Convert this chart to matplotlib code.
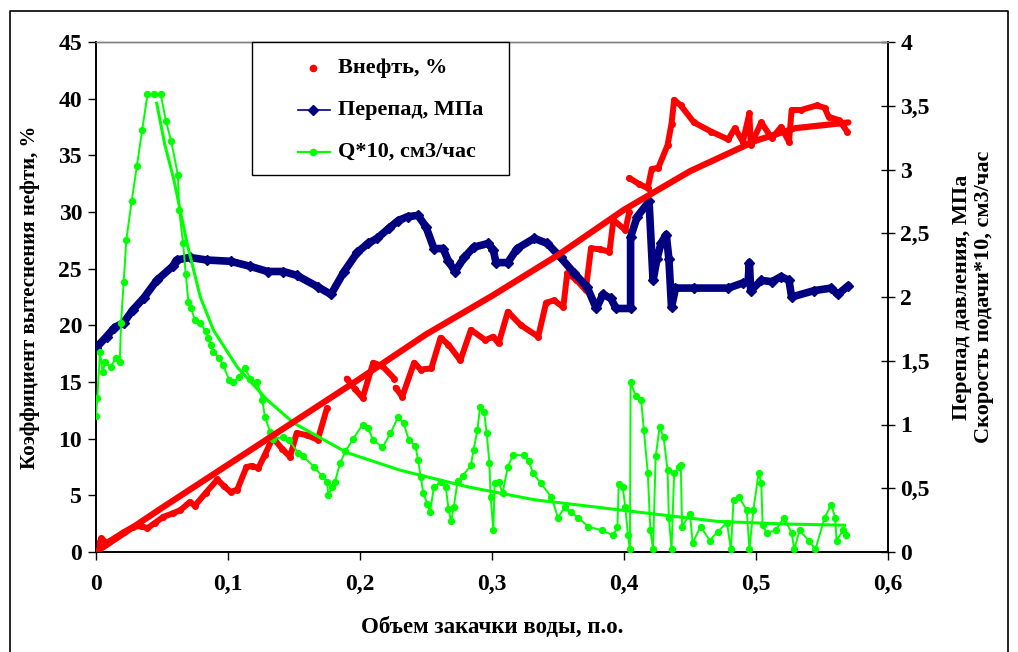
import matplotlib
matplotlib.use("Agg")
import matplotlib.pyplot as plt
from matplotlib.patches import Rectangle
from matplotlib.ticker import FixedLocator, FixedFormatter
import numpy as np

plt.rcParams['font.family'] = ['Liberation Serif', 'DejaVu Serif']
plt.rcParams['font.weight'] = 'bold'

nan = np.nan

# Oil displacement coefficient, % (left axis); NaN marks gaps in the record
oil_x = [0, .004, .008, .015, .021, .028, .034, .039, .045, .051, .058, .064, .071, .075,
         .083, .092, .097, .102, .107, .114, .118, .123, .128, .134, .141, .147, .152,
         .160, .168, .175, nan,
         .190, .196, .202, .210, .217, .226, nan,
         .227, .232, .241, .246, .254, .261, .267, .276, .284, .295, .301, .305, .312,
         .322, .335, .341, .347, .354, .357, .364, .371, .375, .382, .389, .392, .401,
         .404, nan,
         .404, .411, .418, .421, .426, .433, .436, .438, .443, .453, .466, .479, .484,
         .490, .495, .496, .504, .512, .519, .525, .527, .534, .546, .552, .555, .563,
         .569]
oil_y = [0, 1.2, 0.8, 1.3, 1.75, 2.2, 2.3, 2.1, 2.6, 3.1, 3.4, 3.7, 4.4, 4.1,
         5.2, 6.4, 5.8, 5.3, 5.5, 7.5, 7.6, 7.4, 8.6, 10.1, 9.1, 8.4, 10.5,
         10.3, 9.9, 12.7, nan,
         15.3, 14.4, 13.6, 16.7, 16.4, 15.3, nan,
         14.5, 13.7, 16.7, 16.1, 16.2, 18.9, 18.3, 16.9, 19.6, 18.7, 19.0, 18.4, 21.2,
         20.0, 19.0, 22.0, 22.2, 21.6, 24.6, 24.0, 23.1, 26.8, 26.7, 26.5, 29.3, 28.4,
         30.0, nan,
         33.0, 32.5, 32.1, 33.8, 33.9, 35.9, 37.8, 39.9, 39.4, 37.9, 37.1, 36.4, 37.4,
         36.2, 38.7, 35.9, 37.9, 36.5, 37.5, 36.2, 39.0, 39.0, 39.4, 39.2, 38.4, 38.1,
         37.1]

# Oil trend line, %
oil_trend_x = [0, .05, .1, .15, .2, .25, .3, .35, .4, .45, .5, .53, .57]
oil_trend_y = [0, 3.9, 7.7, 11.5, 15.3, 19.2, 22.6, 26.2, 30.2, 33.6, 36.3, 37.4, 37.9]

# Pressure drop, MPa (right axis)
dp_x = [0, .008, .014, .021, .028, .036, .046, .058, .061, .071, .084, .102, .117, .130,
        .142, .152, .168, .178, .188, .198, .206, .213, .222, .229, .236, .244, .250,
        .256, .263, .267, .272, .279, .286, .297, .301, .303, .312, .319, .332, .342,
        .352, .362, .372, .379, .384, .390, .394, .405, .405, .410, .419, .422, .425,
        .428, .432, .434, .436, .439, .453, .479, .490, .494, .495, .496, .504, .512,
        .519, .525, .527, .544, .557, .562, .570]
dp_y = [1.60, 1.69, 1.76, 1.80, 1.90, 1.99, 2.13, 2.24, 2.29, 2.31, 2.29, 2.28, 2.24, 2.20,
        2.20, 2.17, 2.08, 2.02, 2.20, 2.35, 2.42, 2.46, 2.54, 2.60, 2.63, 2.64, 2.55,
        2.38, 2.38, 2.28, 2.20, 2.31, 2.39, 2.42, 2.37, 2.27, 2.27, 2.38, 2.46, 2.42,
        2.31, 2.19, 2.08, 1.91, 2.02, 1.99, 1.91, 1.91, 2.47, 2.63, 2.75, 2.13, 2.30,
        2.42, 2.49, 2.30, 1.92, 2.07, 2.07, 2.07, 2.11, 2.12, 2.27, 2.05, 2.13, 2.12,
        2.16, 2.13, 2.00, 2.05, 2.07, 2.02, 2.09]

# Injection rate Q*10, cm3/h (right axis)
q_x = [0, .001, .003, .005, .007, .011, .015, .018, .019, .021, .023, .027, .031, .035,
       .039, .044, .049, .053, .057, .062, .063, .066, .068, .070, .072, .075, .079,
       .083, .085, .087, .089, .093, .096, .101, .104, .108, .113, .117, .122, .126,
       .128, .132, .134, .142, .146, .153, .157, .165, .171, .175, .176, .179, .181,
       .185, .189, .195, .202, .206, .210, .217, .223, .229, .233, .237, .242, .244,
       .246, .248, .251, .253, .256, .261, .265, .267, .269, .271, .274, .278, .284,
       .286, .289, .291, .294, .296, .298, .299, .301, .302, .305, .308, .312, .316,
       .324, .328, .331, .337, .345, .350, .355, .360, .365, .373, .383, .392, .395,
       .396, .399, .401, .403, .4045, .405, .409, .413, .415, .418, .420, .422, .424,
       .427, .430, .433, .434, .436, .438, .442, .443, .444, .450, .452, .458, .465,
       .471, .478, .481, .483, .487, .493, .495, .498, .502, .504, .505, .508, .515,
       .521, .527, .529, .533, .540, .545, .552, .557, .560, .561, .566, .568]
q_y = [1.07, 1.21, 1.57, 1.41, 1.49, 1.45, 1.52, 1.49, 1.80, 2.12, 2.45, 2.75, 3.03, 3.31,
       3.59, 3.59, 3.59, 3.38, 3.22, 2.96, 2.68, 2.42, 2.18, 1.96, 1.91, 1.82, 1.80,
       1.73, 1.68, 1.62, 1.57, 1.52, 1.47, 1.35, 1.33, 1.37, 1.44, 1.36, 1.33, 1.19,
       1.06, 0.94, 0.89, 0.90, 0.88, 0.78, 0.75, 0.67, 0.60, 0.55, 0.45, 0.51, 0.55,
       0.70, 0.79, 0.89, 1.00, 0.97, 0.88, 0.82, 0.93, 1.06, 1.01, 0.88, 0.83, 0.72,
       0.59, 0.46, 0.38, 0.31, 0.51, 0.55, 0.51, 0.34, 0.24, 0.35, 0.56, 0.60, 0.68,
       0.80, 0.96, 1.14, 1.10, 0.93, 0.70, 0.43, 0.17, 0.54, 0.55, 0.46, 0.67, 0.76,
       0.76, 0.71, 0.62, 0.54, 0.43, 0.27, 0.35, 0.31, 0.27, 0.20, 0.17, 0.13, 0.20,
       0.53, 0.51, 0.35, 0.13, 0.02, 1.33, 1.22, 1.19, 0.96, 0.62, 0.17, 0.02, 0.75,
       0.98, 0.90, 0.64, 0.27, 0.02, 0.62, 0.67, 0.68, 0.20, 0.30, 0.07, 0.20, 0.09,
       0.16, 0.23, 0.02, 0.41, 0.43, 0.33, 0.02, 0.33, 0.62, 0.54, 0.21, 0.15, 0.17,
       0.27, 0.15, 0.02, 0.17, 0.09, 0.02, 0.27, 0.37, 0.27, 0.09, 0.17, 0.13]

# Injection rate trend line
q_trend_x = [.046, .052, .059, .069, .079, .089, .107, .13, .15, .19, .231, .282, .332,
             .413, .471, .52, .567]
q_trend_y = [3.52, 3.2, 2.92, 2.42, 2.0, 1.74, 1.45, 1.19, 1.01, 0.78, 0.64, 0.51, 0.41,
             0.31, 0.24, 0.22, 0.21]

x_ticks = [0, .1, .2, .3, .4, .5, .6]
x_labels = ['0', '0,1', '0,2', '0,3', '0,4', '0,5', '0,6']
left_ticks = [0, 5, 10, 15, 20, 25, 30, 35, 40, 45]
right_ticks = [0, .5, 1, 1.5, 2, 2.5, 3, 3.5, 4]
right_labels = ['0', '0,5', '1', '1,5', '2', '2,5', '3', '3,5', '4']

RED = '#FF0000'
NAVY = '#000080'
GREEN = '#00FF00'

W, H = 1018, 652
fig = plt.figure(figsize=(W / 100, H / 100), dpi=100)


def fx(px):
    return px / W


def fy(py):
    return 1 - py / H


ax = fig.add_axes([fx(96), fy(552), fx(888) - fx(96), fy(42) - fy(552)])
ax2 = ax.twinx()

ax.set_xlim(0, 0.6)
ax.set_ylim(0, 45)
ax2.set_ylim(0, 4)

# Oil series
ax.plot(oil_x, oil_y, color=RED, lw=4.3, solid_capstyle='round',
        solid_joinstyle='round', marker='o', ms=4, mec=RED, mfc=RED, zorder=3)

# Pressure drop and rate
ax2.plot(dp_x, dp_y, color=NAVY, lw=5.5, solid_capstyle='round',
         solid_joinstyle='round', marker='D', ms=5, mec=NAVY, mfc=NAVY, zorder=3)
ax2.plot(q_x, q_y, color=GREEN, lw=1.4, marker='o', ms=4.3, mec=GREEN, mfc=GREEN, zorder=4)

# Trend lines drawn over the data
ax2.plot(q_trend_x, q_trend_y, color=GREEN, lw=2.2, zorder=5)
ax2.plot(oil_trend_x, oil_trend_y, color=RED, lw=4.5, solid_capstyle='round',
         transform=ax.transData, zorder=6)

# Axes styling
ax.xaxis.set_major_locator(FixedLocator(x_ticks))
ax.xaxis.set_major_formatter(FixedFormatter(x_labels))
ax.yaxis.set_major_locator(FixedLocator(left_ticks))
ax2.yaxis.set_major_locator(FixedLocator(right_ticks))
ax2.yaxis.set_major_formatter(FixedFormatter(right_labels))

tick_font = 17
ax.tick_params(axis='x', direction='out', length=6, width=1, labelsize=tick_font, pad=9.5)
ax.tick_params(axis='y', direction='out', length=6, width=1, labelsize=tick_font, pad=4)
ax2.tick_params(axis='y', direction='inout', length=10, width=1, labelsize=tick_font, pad=4)

for a in (ax, ax2):
    a.spines['top'].set_color('#808080')
    a.spines['top'].set_linewidth(1)
    for s in ('left', 'right', 'bottom'):
        a.spines[s].set_color('black')
        a.spines[s].set_linewidth(1.2)

ax.set_xlabel('Объем закачки воды, п.о.', fontsize=16.5, fontweight='bold', labelpad=16)
ax.set_ylabel('Коэффициент вытеснения нефти, %', fontsize=15, fontweight='bold', labelpad=13)
fig.text(fx(973), fy(297), 'Перепад давления, МПа\nСкорость подачи*10, см3/час',
         rotation=90, ha='center', va='center', fontsize=16, fontweight='bold',
         multialignment='center', linespacing=1.15)

# Legend box
leg_ax = fig.add_axes([0, 0, 1, 1], facecolor='none')
leg_ax.set_xlim(0, W)
leg_ax.set_ylim(H, 0)
leg_ax.axis('off')
leg_ax.add_patch(Rectangle((252, 42), 257, 133, facecolor='white', edgecolor='black', lw=1))
rows = [68, 110, 152]
leg_ax.plot([313], [rows[0]], 'o', color=RED, ms=4.5)
leg_ax.plot([298, 330], [rows[1], rows[1]], color=NAVY, lw=1.2)
leg_ax.plot([313], [rows[1]], 'D', color=NAVY, ms=5)
leg_ax.plot([298, 330], [rows[2], rows[2]], color=GREEN, lw=1.6)
leg_ax.plot([313], [rows[2]], 'o', color=GREEN, ms=4.5)
for r, lab in zip(rows, ['Внефть, %', 'Перепад, МПа', 'Q*10, см3/час']):
    leg_ax.text(338, r, lab, ha='left', va='center', fontsize=16, fontweight='bold')

# Outer frame
leg_ax.plot([10, 10, 1008, 1008], [H + 5, 11, 11, H + 5], color='black', lw=1.2,
            clip_on=False)

fig.savefig('out.png', dpi=100)
